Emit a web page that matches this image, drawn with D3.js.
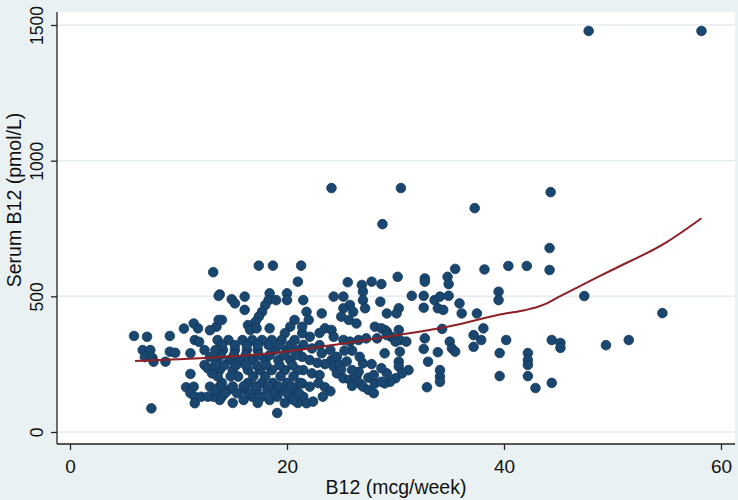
<!DOCTYPE html>
<html><head><meta charset="utf-8">
<script src="https://cdn.jsdelivr.net/npm/d3@7"></script>
<style>body{margin:0;background:#eaf1f3}svg{display:block}</style>
</head><body><svg id="c" width="738" height="500"></svg>
<script>
const xTicks = [0, 20, 40, 60];
const yTicks = [0, 500, 1000, 1500];
const xTitle = "B12 (mcg/week)";
const yTitle = "Serum B12 (pmol/L)";

// [weekly B12 intake (mcg/week), serum B12 (pmol/L)]
const observations = [
  [47.8,1478],[58.2,1478],[24.1,899],[30.5,899],[28.8,766],[37.3,825],[44.3,884],[44.2,678],
  [40.4,612],[42.1,612],[44.2,597],[47.4,501],[54.6,438],[40.2,339],[39.6,291],[39.6,206],
  [42.2,291],[42.2,265],[42.2,247],[42.2,206],[42.9,162],[44.4,181],[44.4,339],[45.2,328],
  [45.2,310],[49.4,320],[51.5,339],[39.5,517],[39.5,486],[38.2,599],[35.5,601],
  [30.2,572],[32.7,566],[32.7,554],[34.8,572],[34.9,545],[31.5,502],[32.6,502],[33.6,486],
  [34.1,499],[34.9,502],[32.6,458],[33.9,456],[34.4,450],[30.3,456],[30.1,437],[29.2,437],
  [35.9,474],[36.1,437],[37.5,437],[34.3,380],[38.1,382],[29.0,376],[29.6,351],[30.3,376],
  [30.4,339],[31.0,333],[30.0,333],[32.7,345],[37.2,357],[37.9,339],[35.0,333],[35.2,308],
  [35.5,296],[32.6,306],[37.2,314],[33.9,294],[30.4,296],[30.3,259],[30.3,241],[33.0,259],
  [31.2,228],[30.6,216],[30.0,198],[29.5,185],[29.0,179],[34.1,228],[34.1,204],[34.1,185],
  [32.9,165],[28.7,545],
  [25.6,552],[26.9,542],[27.0,517],[27.8,554],[24.3,499],[25.2,499],[25.8,468],[25.2,456],
  [27.0,486],[27.2,456],[28.6,480],[21.8,443],[22.0,413],[23.2,437],[25.0,425],[25.7,413],
  [26.4,400],[26.1,443],[28.1,388],[28.7,382],[29.2,370],[23.5,382],[24.1,376],[24.3,351],
  [25.2,339],[25.8,333],[26.6,339],[27.3,345],[28.3,345],[29.2,357],[21.4,364],[22.1,351],
  [21.5,321],[22.3,308],[21.4,277],[22.1,265],[21.5,228],[22.3,216],[21.4,179],[22.1,167],
  [21.5,130],[21.8,106],[22.4,112],[23.3,130],[23.0,210],[24.0,302],[24.1,265],[24.6,277],
  [24.3,241],[24.9,247],[24.6,216],[25.2,198],[25.8,192],[26.4,204],[26.6,222],[26.0,228],
  [27.0,253],[26.7,277],[26.7,179],[27.0,167],[27.5,155],[28.1,179],[28.7,185],[29.2,216],
  [28.0,143],[28.7,235],[29.0,290],
  [23.0,320],[23.2,290],[23.5,250],[22.9,180],[23.5,165],[24.0,150],[25.0,230],[25.5,260],
  [26.0,300],[25.3,300],[27.5,200],[28.0,210],[27.8,250],[26.0,170],[22.8,255],[23.0,365],
  [17.4,613],[18.7,613],[21.3,613],[21.0,554],[13.8,507],[14.9,489],[15.2,474],[16.1,499],
  [16.1,450],[18.4,511],[18.3,486],[18.0,468],[17.7,443],[19.0,486],[20.0,511],[20.0,486],
  [21.5,486],[17.4,425],[17.1,406],[16.4,394],[16.6,376],[17.2,382],[18.4,382],[14.0,413],
  [13.5,388],[20.7,413],[20.3,388],[19.8,364],[21.4,388],
  [13.6,339],[14.6,339],[15.9,339],[16.8,339],[17.7,339],[18.6,339],[19.5,339],[20.7,339],
  [14.1,302],[15.2,302],[16.3,302],[17.3,302],[18.9,302],[20.0,302],[21.0,302],
  [13.5,265],[14.7,265],[15.7,265],[16.8,265],[18.0,265],[19.2,265],[20.3,265],
  [13.8,228],[15.0,228],[16.4,228],[17.5,228],[18.6,228],[19.8,228],[21.0,228],[15.5,204],
  [14.0,181],[16.4,181],[17.7,181],[18.7,181],[20.0,181],[21.2,181],
  [13.5,155],[14.6,155],[16.1,155],[17.2,155],[18.2,155],[19.5,155],[20.7,155],
  [14.0,130],[16.8,130],[17.7,130],[19.1,130],[20.3,130],
  [17.3,107],[19.8,107],[21.0,107],[15.0,107],[19.1,70],
  [14.0,320],[15.2,320],[16.3,320],[17.3,320],[18.3,320],[19.3,320],[20.3,320],
  [13.9,283],[15.1,283],[16.2,283],[17.4,283],[18.4,283],[19.7,283],[20.8,283],
  [14.2,246],[15.3,246],[16.2,246],[17.2,246],[18.1,246],[19.3,246],[20.5,246],
  [13.6,205],[14.8,205],[16.9,205],[18.0,205],[19.4,205],[20.6,205],
  [13.8,168],[15.0,168],[16.0,168],[17.1,168],[18.3,168],[19.2,168],[20.4,168],
  [14.3,143],[15.4,143],[16.6,143],[18.8,143],[20.0,143],[21.1,143],
  [13.8,118],[16.0,118],[18.4,118],[20.6,118],
  [13.2,589],[13.7,502],[5.9,354],[7.1,351],[9.2,354],[10.5,381],[11.4,400],[11.8,382],
  [12.9,375],[11.5,339],[11.9,332],[6.7,302],[7.4,302],[6.9,276],[7.6,273],[7.7,259],
  [8.8,259],[9.2,296],[9.7,292],[11.1,290],[11.1,214],[7.5,87],[10.7,165],[11.4,167],
  [11.1,143],[11.5,130],[11.5,106],[12.1,130],[12.4,247],[12.7,235],[13.1,216],[13.4,247],
  [12.9,167],[13.2,130],[12.7,130],[13.7,413],[13.4,302],[12.4,302],[12.9,276],[13.4,155]
];

// LOWESS smoother
const lowessX = [6, 10, 15, 20, 25, 30, 35, 40, 42, 43, 44, 45, 47, 50, 55, 58.2];
const lowessY = [262, 268, 279, 297, 325, 356, 390, 436, 450, 460, 475, 497, 538, 598, 700, 788];

const W = 738, H = 500;
const plot = {left: 57, right: 735, top: 12, bottom: 444};
const svg = d3.select("#c");
const font = "Arial, 'Liberation Sans', Helvetica, sans-serif";

svg.append("rect").attr("width", W).attr("height", H).attr("fill", "#eaf1f3");
svg.append("rect").attr("x", plot.left).attr("y", plot.top)
  .attr("width", plot.right - plot.left).attr("height", plot.bottom - plot.top)
  .attr("fill", "#ffffff");

const x = d3.scaleLinear().domain([0, 60]).range([70, 721]);
const y = d3.scaleLinear().domain([0, 1500]).range([432, 25]);

// gridlines
svg.append("g").selectAll("line").data(yTicks).join("line")
  .attr("x1", plot.left).attr("x2", plot.right)
  .attr("y1", d => y(d)).attr("y2", d => y(d))
  .attr("stroke", "#e4ecef").attr("stroke-width", 1.5);

// points
svg.append("g").selectAll("circle").data(observations).join("circle")
  .attr("cx", d => x(d[0])).attr("cy", d => y(d[1])).attr("r", 4.8)
  .attr("fill", "#1a476f").attr("stroke", "#12365a").attr("stroke-width", 0.8);

// lowess line
const lineData = lowessX.map((v, i) => [v, lowessY[i]]);
svg.append("path").datum(lineData)
  .attr("d", d3.line().x(d => x(d[0])).y(d => y(d[1])).curve(d3.curveMonotoneX))
  .attr("fill", "none").attr("stroke", "#8e1f24").attr("stroke-width", 2);

// axes
const xAxis = svg.append("g").attr("transform", `translate(0,${plot.bottom})`)
  .call(d3.axisBottom(x).tickValues(xTicks).tickSize(6).tickSizeOuter(0).tickFormat(d3.format("d")));
xAxis.select(".domain").attr("d", `M${plot.left},0H${plot.right}`).attr("stroke", "#222").attr("stroke-width", 1.3);
xAxis.selectAll(".tick line").attr("stroke", "#222").attr("stroke-width", 1.3);
xAxis.selectAll("text").attr("y", 29).attr("dy", null)
  .style("font-family", font).style("font-size", "19px").attr("fill", "#111");

const yAxis = svg.append("g").attr("transform", `translate(${plot.left},0)`)
  .call(d3.axisLeft(y).tickValues(yTicks).tickSize(6).tickSizeOuter(0).tickFormat(d3.format("d")));
yAxis.select(".domain").attr("d", `M0,${plot.top}V${plot.bottom}`).attr("stroke", "#222").attr("stroke-width", 1.3);
yAxis.selectAll(".tick line").attr("stroke", "#222").attr("stroke-width", 1.3);
yAxis.selectAll("text").attr("x", null).attr("dy", null).attr("text-anchor", "middle")
  .attr("transform", "translate(-14,0) rotate(-90)")
  .style("font-family", font).style("font-size", "17.5px").attr("fill", "#111");

svg.append("text").attr("x", 396).attr("y", 494).attr("text-anchor", "middle")
  .style("font-family", font).style("font-size", "19.5px").attr("fill", "#111").text(xTitle);
svg.append("text").attr("transform", "translate(21,200) rotate(-90)").attr("text-anchor", "middle")
  .style("font-family", font).style("font-size", "19.5px").attr("fill", "#111").text(yTitle);
</script></body></html>
